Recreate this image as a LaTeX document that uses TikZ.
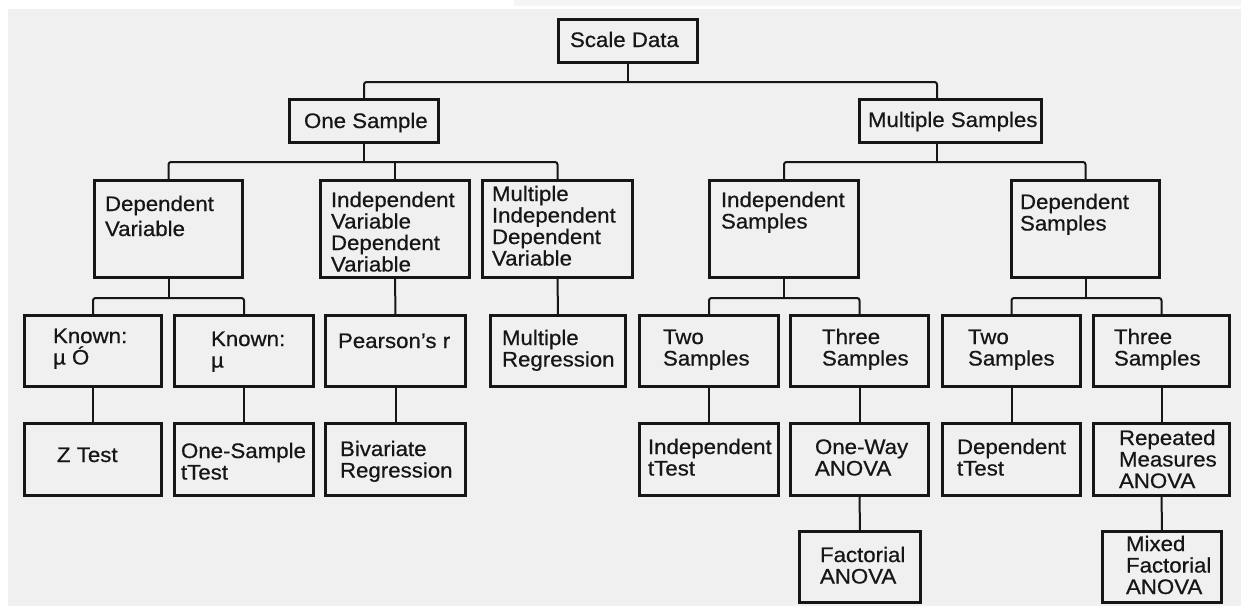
\documentclass[tikz,border=0pt]{standalone}
\usepackage{fontspec}
\setmainfont{Liberation Sans}[FakeStretch=1.06,FakeBold=0.6]
\definecolor{bgc}{RGB}{240,240,240}
\definecolor{stripc}{RGB}{245,245,245}
\definecolor{ink}{RGB}{22,22,22}
\newcommand\ml[2][21.5pt]{\vtop{\baselineskip=#1\relax\lineskiplimit=-20pt\relax\halign{##\hfil\cr#2\crcr}}}
\newcommand\bx[5]{%
  \pgfmathsetmacro\mybw{#4-#2-2.6}\pgfmathsetmacro\mybh{#5-#3-2.6}%
  \node[box,minimum width=\mybw pt,minimum height=\mybh pt] (#1) at ({(#2+#4)/2},{(#3+#5)/2}) {};}
\tikzset{
  box/.style={draw=ink,line width=2.6pt,inner sep=0pt,outer sep=0pt,rectangle},
  conn/.style={draw=ink,line width=2pt,rounded corners=2.5pt},
  txt/.style={anchor=base west,inner sep=0pt,outer sep=0pt,text=ink,font=\fontsize{21pt}{21.5pt}\selectfont}
}
\begin{document}
\begin{tikzpicture}[x=1pt,y=-1pt]
\useasboundingbox (0,0) rectangle (1241,606);
\fill[white] (0,0) rectangle (1241,606);
\fill[bgc] (8,9) rectangle (1241,606);
\fill[stripc] (514,0) rectangle (1241,6);
% boxes
\bx{sd}{557}{18}{699}{64}
\bx{os}{288}{98}{440}{144}
\bx{ms}{858}{98}{1043}{144}
\bx{dv}{93}{179}{244}{279}
\bx{ivdv}{319}{179}{471}{279}
\bx{midv}{481}{179}{634}{279}
\bx{is}{708}{179}{860}{279}
\bx{ds}{1010}{179}{1161}{279}
\bx{kone}{23}{314}{163}{388}
\bx{ktwo}{173}{314}{315}{388}
\bx{pr}{324}{314}{467}{388}
\bx{mr}{489}{314}{627}{388}
\bx{tsa}{638}{314}{780}{388}
\bx{tha}{789}{314}{930}{388}
\bx{tsb}{941}{314}{1082}{388}
\bx{thb}{1092}{314}{1231}{388}
\bx{zt}{23}{422}{163}{497}
\bx{ost}{173}{422}{315}{497}
\bx{br}{324}{422}{467}{497}
\bx{it}{638}{422}{780}{497}
\bx{ow}{789}{422}{930}{497}
\bx{dt}{941}{422}{1082}{497}
\bx{rm}{1092}{422}{1231}{497}
\bx{fa}{798}{530}{922}{604}
\bx{mf}{1101}{530}{1223}{604}
% texts
\node[txt] (t-sd) at (570,47) {Scale Data};
\node[txt] (t-os) at (304,128) {One Sample};
\node[txt] (t-ms) at (868,127) {Multiple Samples};
\node[txt] (t-dv) at (105,211) {\ml[25pt]{Dependent\cr Variable}};
\node[txt] (t-ivdv) at (331,207) {\ml{Independent\cr Variable\cr Dependent\cr Variable}};
\node[txt] (t-midv) at (492,201) {\ml{Multiple\cr Independent\cr Dependent\cr Variable}};
\node[txt] (t-is) at (721,207) {\ml{Independent\cr Samples}};
\node[txt] (t-ds) at (1020,209) {\ml{Dependent\cr Samples}};
\node[txt] (t-kone) at (53,343) {\ml{Known:\cr µ Ó}};
\node[txt] (t-ktwo) at (211,346) {\ml{Known:\cr µ}};
\node[txt] (t-pr) at (338,348) {Pearson's r};
\node[txt] (t-mr) at (502,345) {\ml{Multiple\cr Regression}};
\node[txt] (t-tsa) at (663,344) {\ml{Two\cr Samples}};
\node[txt] (t-tha) at (822,344) {\ml{Three\cr Samples}};
\node[txt] (t-tsb) at (968,344) {\ml{Two\cr Samples}};
\node[txt] (t-thb) at (1114,344) {\ml{Three\cr Samples}};
\node[txt] (t-zt) at (57,462) {Z Test};
\node[txt] (t-ost) at (181,458) {\ml{One-Sample\cr tTest}};
\node[txt] (t-br) at (340,456) {\ml{Bivariate\cr Regression}};
\node[txt] (t-it) at (648,454) {\ml{Independent\cr tTest}};
\node[txt] (t-ow) at (815,454) {\ml{One-Way\cr ANOVA}};
\node[txt] (t-dt) at (957,454) {\ml{Dependent\cr tTest}};
\node[txt] (t-rm) at (1119,445) {\ml{Repeated\cr Measures\cr ANOVA}};
\node[txt] (t-fa) at (820,562) {\ml{Factorial\cr ANOVA}};
\node[txt] (t-mf) at (1126,551) {\ml{Mixed\cr Factorial\cr ANOVA}};
% connectors
\draw[conn] (sd.south) -- (sd.south |- 0,82);
\draw[conn] (os.north) -- (os.north |- 0,82) -- ([xshift=-13.5pt]ms.north |- 0,82) -- ([xshift=-13.5pt]ms.north);
\draw[conn] (os.south) -- (os.south |- 0,162);
\draw[conn] (dv.north) -- (dv.north |- 0,162) -- (midv.north |- 0,162) -- (midv.north);
\draw[conn] (ivdv.north) -- (ivdv.north |- 0,162);
\draw[conn] ([xshift=-13.5pt]ms.south) -- ([xshift=-13.5pt]ms.south |- 0,162);
\draw[conn] (is.north) -- (is.north |- 0,162) -- (ds.north |- 0,162) -- (ds.north);
\draw[conn] (dv.south) -- (dv.south |- 0,298);
\draw[conn] (kone.north) -- (kone.north |- 0,298) -- (ktwo.north |- 0,298) -- (ktwo.north);
\draw[conn] (ivdv.south) -- (pr.north);
\draw[conn] (midv.south) -- (mr.north);
\draw[conn] (is.south) -- (is.south |- 0,298);
\draw[conn] (tsa.north) -- (tsa.north |- 0,298) -- (tha.north |- 0,298) -- (tha.north);
\draw[conn] (ds.south) -- (ds.south |- 0,298);
\draw[conn] (tsb.north) -- (tsb.north |- 0,298) -- (thb.north |- 0,298) -- (thb.north);
\draw[conn] (kone.south) -- (zt.north);
\draw[conn] (ktwo.south) -- (ost.north);
\draw[conn] (pr.south) -- (br.north);
\draw[conn] (tsa.south) -- (it.north);
\draw[conn] (tha.south) -- (ow.north);
\draw[conn] (tsb.south) -- (dt.north);
\draw[conn] (thb.south) -- (rm.north);
\draw[conn] (ow.south) -- (fa.north);
\draw[conn] (rm.south) -- (mf.north);
\end{tikzpicture}
\end{document}
